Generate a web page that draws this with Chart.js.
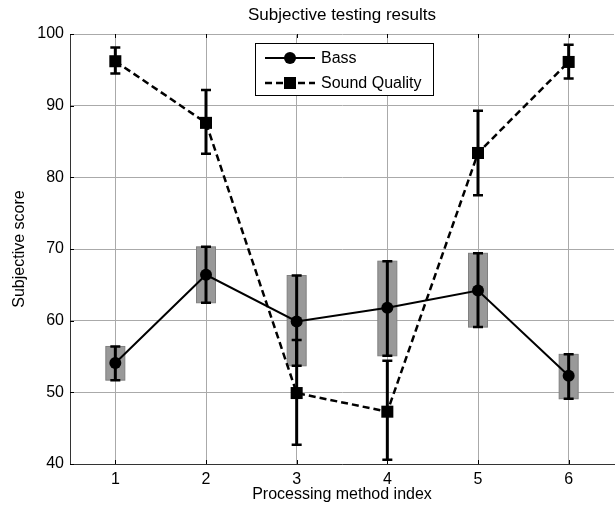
<!DOCTYPE html>
<html>
<head>
<meta charset="utf-8">
<script src="https://cdn.jsdelivr.net/npm/chart.js@4.4.1/dist/chart.umd.min.js"></script>
<style>
  html, body { margin: 0; padding: 0; background: #fff; overflow: hidden; }
  canvas { display: block; }
</style>
</head>
<body>
<canvas id="chart" width="616" height="512"></canvas>
<script>
// values
const methods = [1, 2, 3, 4, 5, 6];
const yTicks = [40, 50, 60, 70, 80, 90, 100];

const bassMean = [54.1, 66.4, 59.9, 61.8, 64.2, 52.3];
const bassLow  = [51.7, 62.5, 53.7, 55.1, 59.1, 49.1];
const bassHigh = [56.4, 70.3, 66.3, 68.3, 69.4, 55.3];

const sqMean = [96.2, 87.6, 49.9, 47.3, 83.4, 96.1];
const sqLow  = [94.5, 83.3, 42.7, 40.6, 77.5, 93.8];
const sqHigh = [98.1, 92.2, 57.3, 54.4, 89.3, 98.5];

const FONT = '"Liberation Sans", Arial, sans-serif';

// grey boxes behind the bass points + error bars on top
const errorBars = {
  id: 'errorBars',
  beforeDatasetsDraw(chart) {
    const { ctx, scales: { x, y } } = chart;
    ctx.save();
    methods.forEach((m, i) => {
      const cx = x.getPixelForValue(m);
      const t = y.getPixelForValue(bassHigh[i]);
      const b = y.getPixelForValue(bassLow[i]);
      ctx.fillStyle = 'rgb(153,153,153)';
      ctx.strokeStyle = 'rgb(128,128,128)';
      ctx.lineWidth = 1;
      ctx.fillRect(cx - 9.5, t, 19, b - t);
      ctx.strokeRect(cx - 9.5, t, 19, b - t);
    });
    ctx.restore();
  },
  afterDatasetsDraw(chart) {
    const { ctx, scales: { x, y } } = chart;
    const bar = (cx, lo, hi) => {
      const t = y.getPixelForValue(hi);
      const b = y.getPixelForValue(lo);
      ctx.lineWidth = 3;
      ctx.beginPath();
      ctx.moveTo(cx, t); ctx.lineTo(cx, b);
      ctx.stroke();
      ctx.lineWidth = 2.5;
      ctx.beginPath();
      ctx.moveTo(cx - 5, t); ctx.lineTo(cx + 5, t);
      ctx.moveTo(cx - 5, b); ctx.lineTo(cx + 5, b);
      ctx.stroke();
    };
    ctx.save();
    ctx.strokeStyle = '#000';
    ctx.setLineDash([]);
    methods.forEach((m, i) => {
      const cx = x.getPixelForValue(m);
      bar(cx, bassLow[i], bassHigh[i]);
      bar(cx, sqLow[i], sqHigh[i]);
    });
    ctx.restore();
  }
};

// title, inward tick marks and the boxed legend, matlab style
const decorations = {
  id: 'decorations',
  afterDraw(chart) {
    const { ctx, chartArea: a, scales: { x, y } } = chart;
    ctx.save();
    ctx.fillStyle = '#000';
    ctx.font = '17px ' + FONT;
    ctx.textAlign = 'center';
    ctx.textBaseline = 'middle';
    ctx.fillText('Subjective testing results', (a.left + a.right) / 2, 15);

    ctx.strokeStyle = '#000';
    ctx.lineWidth = 1;
    ctx.beginPath();
    methods.forEach(m => {
      const px = Math.round(x.getPixelForValue(m)) + 0.5;
      ctx.moveTo(px, a.bottom); ctx.lineTo(px, a.bottom - 4);
      ctx.moveTo(px, a.top); ctx.lineTo(px, a.top + 4);
    });
    yTicks.forEach(v => {
      const py = Math.round(y.getPixelForValue(v)) + 0.5;
      ctx.moveTo(a.left, py); ctx.lineTo(a.left + 4, py);
    });
    ctx.stroke();

    // legend
    const lx = 255.5, ly = 43.5, lw = 178, lh = 52;
    ctx.fillStyle = '#fff';
    ctx.fillRect(lx, ly, lw, lh);
    ctx.strokeRect(lx, ly, lw, lh);
    const rows = [58, 83];
    chart.data.datasets.forEach((ds, i) => {
      const ry = rows[i];
      ctx.strokeStyle = '#000';
      ctx.lineWidth = ds.borderWidth;
      ctx.setLineDash(ds.borderDash || []);
      ctx.beginPath();
      ctx.moveTo(265, ry); ctx.lineTo(315, ry);
      ctx.stroke();
      ctx.setLineDash([]);
      ctx.fillStyle = '#000';
      if (ds.pointStyle === 'rect') {
        ctx.fillRect(284, ry - 6, 12, 12);
      } else {
        ctx.beginPath();
        ctx.arc(290, ry, 6, 0, Math.PI * 2);
        ctx.fill();
      }
      ctx.font = '16px ' + FONT;
      ctx.textAlign = 'left';
      ctx.fillText(ds.label, 321, ry + 1);
    });
    ctx.restore();
  }
};

new Chart(document.getElementById('chart'), {
  type: 'line',
  data: {
    datasets: [
      {
        label: 'Bass',
        data: methods.map((m, i) => ({ x: m, y: bassMean[i] })),
        borderColor: '#000',
        backgroundColor: '#000',
        borderWidth: 2,
        pointStyle: 'circle',
        pointRadius: 6,
        pointBorderWidth: 0,
        tension: 0
      },
      {
        label: 'Sound Quality',
        data: methods.map((m, i) => ({ x: m, y: sqMean[i] })),
        borderColor: '#000',
        backgroundColor: '#000',
        borderWidth: 2.5,
        borderDash: [7, 4],
        pointStyle: 'rect',
        pointRadius: 8.5,
        pointBorderWidth: 0,
        tension: 0
      }
    ]
  },
  options: {
    responsive: false,
    animation: false,
    devicePixelRatio: 1,
    layout: { autoPadding: false, padding: { top: 34, right: 2, left: 0, bottom: 0 } },
    plugins: {
      legend: { display: false },
      title: { display: false },
      tooltip: { enabled: false }
    },
    scales: {
      x: {
        type: 'linear',
        min: 0.5,
        max: 6.5,
        afterBuildTicks: s => { s.ticks = methods.map(v => ({ value: v })); },
        afterFit: s => { s.height = 48; },
        grid: { color: '#aaaaaa', drawTicks: false },
        border: { color: '#333', width: 1 },
        ticks: { color: '#000', font: { family: FONT, size: 16 }, padding: 6, maxRotation: 0 },
        title: {
          display: true,
          text: 'Processing method index',
          color: '#000',
          font: { family: FONT, size: 16 },
          padding: { top: 0, bottom: 8 }
        }
      },
      y: {
        min: 40,
        max: 100,
        afterBuildTicks: s => { s.ticks = yTicks.map(v => ({ value: v })); },
        afterFit: s => { s.width = 70; },
        grid: { color: '#aaaaaa', drawTicks: false },
        border: { color: '#333', width: 1 },
        ticks: { color: '#000', font: { family: FONT, size: 16 }, padding: 6 },
        title: {
          display: true,
          text: 'Subjective score',
          color: '#000',
          font: { family: FONT, size: 16 },
          padding: { top: 10, bottom: 0 }
        }
      }
    }
  },
  plugins: [errorBars, decorations]
});
</script>
</body>
</html>
